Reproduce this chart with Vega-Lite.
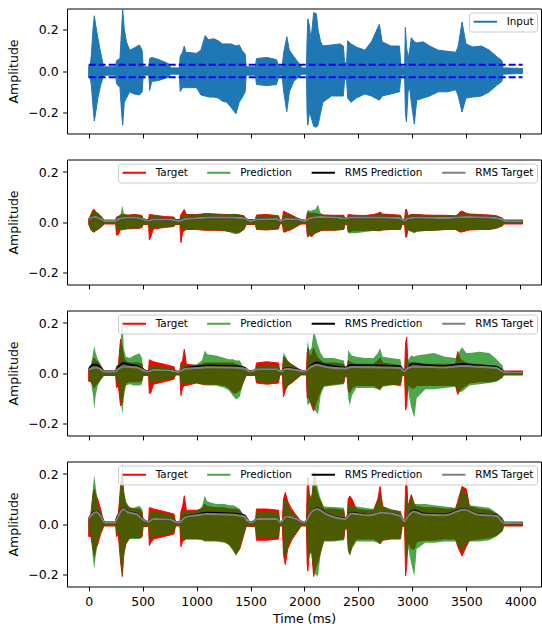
{
"$schema": "https://vega.github.io/schema/vega-lite/v6.json",
"padding": {"left": 7, "top": 7.5, "right": 0, "bottom": 0},
"spacing": 19,
"config": {
 "font": "DejaVu Sans",
 "view": {"stroke": "#000000", "strokeWidth": 1},
 "axis": {"domain": false, "grid": false, "tickSize": 4.4, "tickColor": "#000000", "tickWidth": 1, "labelFontSize": 12.5, "labelColor": "#000000", "labelPadding": 4.4, "titleFontSize": 12.5, "titleFontWeight": "normal", "titleColor": "#000000", "labelFlush": false, "labelOverlap": false},
 "axisY": {"titlePadding": 7},
 "axisX": {"titlePadding": 5},
 "legend": {"orient": "top-right", "offset": 4, "symbolType": "stroke", "symbolSize": 543, "symbolStrokeWidth": 2, "labelFontSize": 10.4, "labelColor": "#000000", "labelOffset": 8.4, "padding": 3.3, "clipHeight": 12, "fillColor": "rgba(255,255,255,0.8)", "strokeColor": "#cccccc", "cornerRadius": 3, "columnPadding": 17.5}
},
"resolve": {"scale": {"x": "independent", "y": "independent", "color": "independent"}, "legend": {"color": "independent"}},
"datasets": {
 "inp": [
  {"t":0,"hi":0.025,"lo":-0.03},{"t":15,"hi":0.03,"lo":-0.035},{"t":25,"hi":0.08,"lo":-0.07},{"t":40,"hi":0.2,"lo":-0.17},{"t":52,"hi":0.265,"lo":-0.24},{"t":65,"hi":0.22,"lo":-0.2},{"t":85,"hi":0.16,"lo":-0.13},{"t":110,"hi":0.09,"lo":-0.07},{"t":130,"hi":0.04,"lo":-0.035},{"t":140,"hi":0.02,"lo":-0.02},{"t":250,"hi":0.02,"lo":-0.02},{"t":258,"hi":0.05,"lo":-0.06},{"t":290,"hi":0.06,"lo":-0.08},{"t":305,"hi":0.2,"lo":-0.2},{"t":315,"hi":0.295,"lo":-0.26},{"t":330,"hi":0.2,"lo":-0.15},{"t":350,"hi":0.14,"lo":-0.13},{"t":380,"hi":0.1,"lo":-0.1},{"t":420,"hi":0.11,"lo":-0.11},{"t":470,"hi":0.125,"lo":-0.115},{"t":495,"hi":0.1,"lo":-0.1},{"t":505,"hi":0.02,"lo":-0.02},{"t":558,"hi":0.02,"lo":-0.02},{"t":565,"hi":0.06,"lo":-0.093},{"t":585,"hi":0.065,"lo":-0.05},{"t":650,"hi":0.055,"lo":-0.045},{"t":740,"hi":0.035,"lo":-0.03},{"t":760,"hi":0.015,"lo":-0.015},{"t":840,"hi":0.015,"lo":-0.015},{"t":848,"hi":0.07,"lo":-0.098},{"t":870,"hi":0.09,"lo":-0.08},{"t":886,"hi":0.12,"lo":-0.08},{"t":900,"hi":0.09,"lo":-0.08},{"t":1000,"hi":0.085,"lo":-0.08},{"t":1040,"hi":0.1,"lo":-0.115},{"t":1080,"hi":0.17,"lo":-0.12},{"t":1110,"hi":0.15,"lo":-0.125},{"t":1160,"hi":0.155,"lo":-0.125},{"t":1200,"hi":0.145,"lo":-0.13},{"t":1240,"hi":0.13,"lo":-0.145},{"t":1280,"hi":0.13,"lo":-0.15},{"t":1320,"hi":0.13,"lo":-0.175},{"t":1365,"hi":0.12,"lo":-0.205},{"t":1395,"hi":0.125,"lo":-0.15},{"t":1420,"hi":0.1,"lo":-0.13},{"t":1450,"hi":0.08,"lo":-0.1},{"t":1460,"hi":0.02,"lo":-0.02},{"t":1545,"hi":0.02,"lo":-0.02},{"t":1555,"hi":0.06,"lo":-0.065},{"t":1650,"hi":0.065,"lo":-0.07},{"t":1740,"hi":0.055,"lo":-0.065},{"t":1765,"hi":0.02,"lo":-0.02},{"t":1793,"hi":0.02,"lo":-0.02},{"t":1805,"hi":0.08,"lo":-0.09},{"t":1836,"hi":0.165,"lo":-0.195},{"t":1860,"hi":0.1,"lo":-0.1},{"t":1900,"hi":0.07,"lo":-0.05},{"t":1965,"hi":0.025,"lo":-0.02},{"t":1975,"hi":0.015,"lo":-0.015},{"t":2018,"hi":0.015,"lo":-0.015},{"t":2024,"hi":0.15,"lo":-0.2},{"t":2031,"hi":0.25,"lo":-0.26},{"t":2045,"hi":0.22,"lo":-0.2},{"t":2060,"hi":0.15,"lo":-0.22},{"t":2085,"hi":0.28,"lo":-0.265},{"t":2110,"hi":0.275,"lo":-0.27},{"t":2125,"hi":0.2,"lo":-0.26},{"t":2150,"hi":0.14,"lo":-0.2},{"t":2170,"hi":0.12,"lo":-0.15},{"t":2250,"hi":0.125,"lo":-0.12},{"t":2330,"hi":0.13,"lo":-0.12},{"t":2360,"hi":0.12,"lo":-0.12},{"t":2372,"hi":0.04,"lo":-0.04},{"t":2390,"hi":0.04,"lo":-0.04},{"t":2400,"hi":0.145,"lo":-0.13},{"t":2432,"hi":0.13,"lo":-0.15},{"t":2480,"hi":0.115,"lo":-0.13},{"t":2560,"hi":0.1,"lo":-0.11},{"t":2620,"hi":0.14,"lo":-0.12},{"t":2694,"hi":0.224,"lo":-0.14},{"t":2720,"hi":0.14,"lo":-0.12},{"t":2800,"hi":0.12,"lo":-0.11},{"t":2880,"hi":0.12,"lo":-0.1},{"t":2895,"hi":0.02,"lo":-0.02},{"t":2928,"hi":0.02,"lo":-0.02},{"t":2935,"hi":0.21,"lo":-0.2},{"t":2945,"hi":0.12,"lo":-0.245},{"t":2960,"hi":0.06,"lo":-0.1},{"t":2975,"hi":0.1,"lo":-0.08},{"t":2990,"hi":0.16,"lo":-0.15},{"t":3018,"hi":0.14,"lo":-0.255},{"t":3040,"hi":0.135,"lo":-0.14},{"t":3100,"hi":0.14,"lo":-0.13},{"t":3160,"hi":0.12,"lo":-0.12},{"t":3240,"hi":0.1,"lo":-0.1},{"t":3320,"hi":0.095,"lo":-0.1},{"t":3404,"hi":0.09,"lo":-0.09},{"t":3425,"hi":0.12,"lo":-0.12},{"t":3460,"hi":0.235,"lo":-0.197},{"t":3497,"hi":0.13,"lo":-0.13},{"t":3560,"hi":0.115,"lo":-0.125},{"t":3640,"hi":0.12,"lo":-0.12},{"t":3713,"hi":0.1,"lo":-0.1},{"t":3780,"hi":0.07,"lo":-0.07},{"t":3830,"hi":0.05,"lo":-0.05},{"t":3840,"hi":0.015,"lo":-0.015},{"t":4021,"hi":0.012,"lo":-0.012}
 ],
 "dash": [{"t":0,"t2":4021,"lvl":0.03},{"t":0,"t2":4021,"lvl":-0.03}],
 "p2": [
  {"t":0,"th":0.01,"tl":-0.01,"ph":0.01,"pl":-0.01},{"t":20,"th":0.03,"tl":-0.03,"ph":0.03,"pl":-0.03},{"t":40,"th":0.048,"tl":-0.04,"ph":0.045,"pl":-0.04},{"t":52,"th":0.05,"tl":-0.04,"ph":0.045,"pl":-0.04},{"t":65,"th":0.04,"tl":-0.035,"ph":0.04,"pl":-0.035},{"t":85,"th":0.035,"tl":-0.03,"ph":0.035,"pl":-0.03},{"t":110,"th":0.025,"tl":-0.022,"ph":0.025,"pl":-0.022},{"t":130,"th":0.015,"tl":-0.015,"ph":0.015,"pl":-0.015},{"t":140,"th":0.008,"tl":-0.008,"ph":0.008,"pl":-0.008},{"t":250,"th":0.008,"tl":-0.008,"ph":0.008,"pl":-0.008},{"t":258,"th":0.02,"tl":-0.053,"ph":0.02,"pl":-0.03},{"t":275,"th":0.022,"tl":-0.05,"ph":0.022,"pl":-0.03},{"t":295,"th":0.028,"tl":-0.03,"ph":0.03,"pl":-0.03},{"t":312,"th":0.03,"tl":-0.03,"ph":0.066,"pl":-0.035},{"t":325,"th":0.03,"tl":-0.03,"ph":0.035,"pl":-0.03},{"t":345,"th":0.028,"tl":-0.028,"ph":0.03,"pl":-0.028},{"t":380,"th":0.028,"tl":-0.027,"ph":0.028,"pl":-0.027},{"t":420,"th":0.03,"tl":-0.026,"ph":0.03,"pl":-0.026},{"t":470,"th":0.028,"tl":-0.025,"ph":0.028,"pl":-0.025},{"t":495,"th":0.025,"tl":-0.022,"ph":0.025,"pl":-0.022},{"t":505,"th":0.01,"tl":-0.01,"ph":0.01,"pl":-0.01},{"t":555,"th":0.01,"tl":-0.01,"ph":0.01,"pl":-0.01},{"t":562,"th":0.03,"tl":-0.072,"ph":0.025,"pl":-0.03},{"t":575,"th":0.03,"tl":-0.06,"ph":0.025,"pl":-0.03},{"t":600,"th":0.028,"tl":-0.028,"ph":0.025,"pl":-0.025},{"t":700,"th":0.022,"tl":-0.022,"ph":0.02,"pl":-0.02},{"t":790,"th":0.02,"tl":-0.018,"ph":0.018,"pl":-0.018},{"t":805,"th":0.01,"tl":-0.01,"ph":0.01,"pl":-0.01},{"t":845,"th":0.01,"tl":-0.01,"ph":0.01,"pl":-0.01},{"t":855,"th":0.03,"tl":-0.082,"ph":0.025,"pl":-0.03},{"t":870,"th":0.04,"tl":-0.04,"ph":0.03,"pl":-0.03},{"t":886,"th":0.05,"tl":-0.035,"ph":0.03,"pl":-0.03},{"t":905,"th":0.03,"tl":-0.03,"ph":0.03,"pl":-0.03},{"t":1000,"th":0.03,"tl":-0.03,"ph":0.03,"pl":-0.03},{"t":1050,"th":0.032,"tl":-0.032,"ph":0.032,"pl":-0.032},{"t":1075,"th":0.034,"tl":-0.033,"ph":0.034,"pl":-0.033},{"t":1100,"th":0.034,"tl":-0.033,"ph":0.033,"pl":-0.033},{"t":1180,"th":0.032,"tl":-0.033,"ph":0.032,"pl":-0.033},{"t":1260,"th":0.03,"tl":-0.035,"ph":0.03,"pl":-0.035},{"t":1300,"th":0.03,"tl":-0.038,"ph":0.031,"pl":-0.04},{"t":1340,"th":0.03,"tl":-0.04,"ph":0.033,"pl":-0.047},{"t":1365,"th":0.03,"tl":-0.043,"ph":0.032,"pl":-0.049},{"t":1400,"th":0.028,"tl":-0.04,"ph":0.03,"pl":-0.045},{"t":1440,"th":0.025,"tl":-0.03,"ph":0.025,"pl":-0.03},{"t":1460,"th":0.01,"tl":-0.01,"ph":0.01,"pl":-0.01},{"t":1545,"th":0.01,"tl":-0.01,"ph":0.01,"pl":-0.01},{"t":1555,"th":0.028,"tl":-0.03,"ph":0.025,"pl":-0.028},{"t":1650,"th":0.03,"tl":-0.032,"ph":0.027,"pl":-0.03},{"t":1760,"th":0.025,"tl":-0.028,"ph":0.023,"pl":-0.025},{"t":1770,"th":0.008,"tl":-0.008,"ph":0.008,"pl":-0.008},{"t":1795,"th":0.008,"tl":-0.008,"ph":0.008,"pl":-0.008},{"t":1805,"th":0.044,"tl":-0.04,"ph":0.035,"pl":-0.035},{"t":1822,"th":0.04,"tl":-0.04,"ph":0.035,"pl":-0.035},{"t":1845,"th":0.035,"tl":-0.035,"ph":0.032,"pl":-0.032},{"t":1880,"th":0.028,"tl":-0.03,"ph":0.025,"pl":-0.028},{"t":1950,"th":0.012,"tl":-0.012,"ph":0.012,"pl":-0.012},{"t":1970,"th":0.008,"tl":-0.008,"ph":0.008,"pl":-0.008},{"t":2018,"th":0.008,"tl":-0.008,"ph":0.008,"pl":-0.008},{"t":2025,"th":0.035,"tl":-0.05,"ph":0.04,"pl":-0.06},{"t":2031,"th":0.04,"tl":-0.06,"ph":0.05,"pl":-0.062},{"t":2045,"th":0.035,"tl":-0.05,"ph":0.045,"pl":-0.055},{"t":2065,"th":0.035,"tl":-0.06,"ph":0.045,"pl":-0.05},{"t":2085,"th":0.035,"tl":-0.05,"ph":0.05,"pl":-0.05},{"t":2100,"th":0.035,"tl":-0.045,"ph":0.05,"pl":-0.045},{"t":2125,"th":0.032,"tl":-0.04,"ph":0.07,"pl":-0.04},{"t":2150,"th":0.03,"tl":-0.035,"ph":0.035,"pl":-0.035},{"t":2180,"th":0.028,"tl":-0.033,"ph":0.028,"pl":-0.033},{"t":2270,"th":0.027,"tl":-0.033,"ph":0.027,"pl":-0.035},{"t":2365,"th":0.027,"tl":-0.03,"ph":0.027,"pl":-0.03},{"t":2375,"th":0.01,"tl":-0.01,"ph":0.01,"pl":-0.01},{"t":2395,"th":0.01,"tl":-0.01,"ph":0.01,"pl":-0.01},{"t":2405,"th":0.03,"tl":-0.04,"ph":0.028,"pl":-0.045},{"t":2420,"th":0.03,"tl":-0.04,"ph":0.028,"pl":-0.045},{"t":2440,"th":0.028,"tl":-0.035,"ph":0.027,"pl":-0.045},{"t":2480,"th":0.027,"tl":-0.035,"ph":0.026,"pl":-0.045},{"t":2560,"th":0.026,"tl":-0.033,"ph":0.026,"pl":-0.04},{"t":2640,"th":0.03,"tl":-0.033,"ph":0.028,"pl":-0.036},{"t":2680,"th":0.035,"tl":-0.035,"ph":0.03,"pl":-0.035},{"t":2700,"th":0.04,"tl":-0.035,"ph":0.035,"pl":-0.035},{"t":2725,"th":0.032,"tl":-0.032,"ph":0.03,"pl":-0.032},{"t":2800,"th":0.03,"tl":-0.03,"ph":0.028,"pl":-0.03},{"t":2890,"th":0.027,"tl":-0.03,"ph":0.026,"pl":-0.03},{"t":2905,"th":0.01,"tl":-0.01,"ph":0.01,"pl":-0.01},{"t":2928,"th":0.01,"tl":-0.01,"ph":0.01,"pl":-0.01},{"t":2937,"th":0.05,"tl":-0.06,"ph":0.04,"pl":-0.045},{"t":2947,"th":0.05,"tl":-0.06,"ph":0.035,"pl":-0.045},{"t":2958,"th":0.025,"tl":-0.03,"ph":0.025,"pl":-0.03},{"t":2972,"th":0.028,"tl":-0.035,"ph":0.028,"pl":-0.035},{"t":2990,"th":0.03,"tl":-0.035,"ph":0.03,"pl":-0.04},{"t":3018,"th":0.03,"tl":-0.04,"ph":0.03,"pl":-0.045},{"t":3040,"th":0.03,"tl":-0.035,"ph":0.03,"pl":-0.04},{"t":3120,"th":0.028,"tl":-0.034,"ph":0.028,"pl":-0.036},{"t":3200,"th":0.027,"tl":-0.033,"ph":0.027,"pl":-0.035},{"t":3300,"th":0.027,"tl":-0.03,"ph":0.027,"pl":-0.032},{"t":3400,"th":0.025,"tl":-0.03,"ph":0.025,"pl":-0.03},{"t":3420,"th":0.03,"tl":-0.035,"ph":0.028,"pl":-0.033},{"t":3440,"th":0.04,"tl":-0.04,"ph":0.035,"pl":-0.035},{"t":3460,"th":0.044,"tl":-0.04,"ph":0.036,"pl":-0.036},{"t":3500,"th":0.035,"tl":-0.035,"ph":0.033,"pl":-0.033},{"t":3530,"th":0.032,"tl":-0.032,"ph":0.03,"pl":-0.032},{"t":3620,"th":0.03,"tl":-0.03,"ph":0.03,"pl":-0.03},{"t":3713,"th":0.028,"tl":-0.03,"ph":0.028,"pl":-0.03},{"t":3780,"th":0.025,"tl":-0.025,"ph":0.025,"pl":-0.025},{"t":3836,"th":0.015,"tl":-0.015,"ph":0.015,"pl":-0.015},{"t":3845,"th":0.008,"tl":-0.008,"ph":0.008,"pl":-0.008},{"t":4021,"th":0.008,"tl":-0.008,"ph":0.008,"pl":-0.008}
 ],
 "p3": [
  {"t":0,"th":0.015,"tl":-0.033,"ph":0.015,"pl":-0.03},{"t":20,"th":0.025,"tl":-0.035,"ph":0.03,"pl":-0.035},{"t":40,"th":0.05,"tl":-0.05,"ph":0.08,"pl":-0.09},{"t":52,"th":0.06,"tl":-0.06,"ph":0.109,"pl":-0.146},{"t":65,"th":0.05,"tl":-0.05,"ph":0.08,"pl":-0.09},{"t":85,"th":0.045,"tl":-0.04,"ph":0.055,"pl":-0.05},{"t":110,"th":0.03,"tl":-0.025,"ph":0.035,"pl":-0.03},{"t":130,"th":0.015,"tl":-0.015,"ph":0.018,"pl":-0.018},{"t":140,"th":0.007,"tl":-0.01,"ph":0.007,"pl":-0.01},{"t":250,"th":0.007,"tl":-0.01,"ph":0.007,"pl":-0.01},{"t":258,"th":0.025,"tl":-0.06,"ph":0.03,"pl":-0.035},{"t":275,"th":0.03,"tl":-0.05,"ph":0.035,"pl":-0.04},{"t":295,"th":0.135,"tl":-0.132,"ph":0.12,"pl":-0.1},{"t":312,"th":0.1,"tl":-0.12,"ph":0.223,"pl":-0.166},{"t":325,"th":0.06,"tl":-0.07,"ph":0.1,"pl":-0.1},{"t":345,"th":0.045,"tl":-0.04,"ph":0.065,"pl":-0.05},{"t":380,"th":0.04,"tl":-0.035,"ph":0.06,"pl":-0.045},{"t":420,"th":0.04,"tl":-0.035,"ph":0.07,"pl":-0.05},{"t":470,"th":0.04,"tl":-0.035,"ph":0.079,"pl":-0.05},{"t":495,"th":0.035,"tl":-0.03,"ph":0.06,"pl":-0.045},{"t":505,"th":0.01,"tl":-0.01,"ph":0.01,"pl":-0.01},{"t":555,"th":0.01,"tl":-0.01,"ph":0.01,"pl":-0.01},{"t":562,"th":0.053,"tl":-0.082,"ph":0.03,"pl":-0.04},{"t":575,"th":0.05,"tl":-0.08,"ph":0.03,"pl":-0.04},{"t":600,"th":0.045,"tl":-0.045,"ph":0.03,"pl":-0.035},{"t":700,"th":0.035,"tl":-0.035,"ph":0.025,"pl":-0.03},{"t":790,"th":0.025,"tl":-0.025,"ph":0.02,"pl":-0.02},{"t":805,"th":0.008,"tl":-0.008,"ph":0.008,"pl":-0.008},{"t":845,"th":0.008,"tl":-0.008,"ph":0.008,"pl":-0.008},{"t":855,"th":0.04,"tl":-0.09,"ph":0.035,"pl":-0.05},{"t":870,"th":0.05,"tl":-0.06,"ph":0.035,"pl":-0.045},{"t":886,"th":0.095,"tl":-0.05,"ph":0.04,"pl":-0.045},{"t":905,"th":0.035,"tl":-0.05,"ph":0.03,"pl":-0.04},{"t":1000,"th":0.03,"tl":-0.04,"ph":0.035,"pl":-0.04},{"t":1050,"th":0.035,"tl":-0.045,"ph":0.05,"pl":-0.045},{"t":1075,"th":0.04,"tl":-0.045,"ph":0.09,"pl":-0.05},{"t":1100,"th":0.04,"tl":-0.045,"ph":0.075,"pl":-0.05},{"t":1180,"th":0.04,"tl":-0.045,"ph":0.07,"pl":-0.05},{"t":1260,"th":0.04,"tl":-0.05,"ph":0.06,"pl":-0.06},{"t":1300,"th":0.04,"tl":-0.06,"ph":0.055,"pl":-0.07},{"t":1340,"th":0.04,"tl":-0.08,"ph":0.055,"pl":-0.093},{"t":1365,"th":0.035,"tl":-0.08,"ph":0.05,"pl":-0.106},{"t":1400,"th":0.03,"tl":-0.07,"ph":0.05,"pl":-0.095},{"t":1440,"th":0.02,"tl":-0.03,"ph":0.02,"pl":-0.03},{"t":1460,"th":0.01,"tl":-0.01,"ph":0.01,"pl":-0.01},{"t":1545,"th":0.01,"tl":-0.01,"ph":0.01,"pl":-0.01},{"t":1555,"th":0.04,"tl":-0.04,"ph":0.03,"pl":-0.035},{"t":1650,"th":0.045,"tl":-0.045,"ph":0.035,"pl":-0.04},{"t":1760,"th":0.04,"tl":-0.04,"ph":0.03,"pl":-0.035},{"t":1770,"th":0.008,"tl":-0.008,"ph":0.008,"pl":-0.008},{"t":1795,"th":0.008,"tl":-0.008,"ph":0.008,"pl":-0.008},{"t":1805,"th":0.065,"tl":-0.095,"ph":0.082,"pl":-0.07},{"t":1822,"th":0.06,"tl":-0.07,"ph":0.07,"pl":-0.06},{"t":1845,"th":0.045,"tl":-0.05,"ph":0.05,"pl":-0.05},{"t":1880,"th":0.035,"tl":-0.04,"ph":0.035,"pl":-0.04},{"t":1950,"th":0.015,"tl":-0.015,"ph":0.015,"pl":-0.015},{"t":1970,"th":0.008,"tl":-0.008,"ph":0.008,"pl":-0.008},{"t":2018,"th":0.008,"tl":-0.008,"ph":0.008,"pl":-0.008},{"t":2025,"th":0.08,"tl":-0.1,"ph":0.1,"pl":-0.12},{"t":2031,"th":0.1,"tl":-0.1,"ph":0.13,"pl":-0.13},{"t":2045,"th":0.07,"tl":-0.1,"ph":0.09,"pl":-0.12},{"t":2065,"th":0.07,"tl":-0.13,"ph":0.1,"pl":-0.12},{"t":2085,"th":0.1,"tl":-0.152,"ph":0.17,"pl":-0.14},{"t":2100,"th":0.08,"tl":-0.13,"ph":0.15,"pl":-0.15},{"t":2125,"th":0.06,"tl":-0.1,"ph":0.11,"pl":-0.165},{"t":2150,"th":0.05,"tl":-0.07,"ph":0.08,"pl":-0.09},{"t":2180,"th":0.04,"tl":-0.05,"ph":0.06,"pl":-0.055},{"t":2270,"th":0.04,"tl":-0.045,"ph":0.06,"pl":-0.05},{"t":2365,"th":0.035,"tl":-0.04,"ph":0.05,"pl":-0.045},{"t":2375,"th":0.015,"tl":-0.015,"ph":0.015,"pl":-0.015},{"t":2395,"th":0.015,"tl":-0.015,"ph":0.015,"pl":-0.015},{"t":2405,"th":0.05,"tl":-0.07,"ph":0.093,"pl":-0.1},{"t":2420,"th":0.045,"tl":-0.08,"ph":0.08,"pl":-0.13},{"t":2440,"th":0.04,"tl":-0.06,"ph":0.07,"pl":-0.09},{"t":2480,"th":0.035,"tl":-0.05,"ph":0.065,"pl":-0.06},{"t":2560,"th":0.035,"tl":-0.05,"ph":0.06,"pl":-0.06},{"t":2640,"th":0.035,"tl":-0.05,"ph":0.06,"pl":-0.06},{"t":2680,"th":0.05,"tl":-0.06,"ph":0.08,"pl":-0.065},{"t":2700,"th":0.06,"tl":-0.065,"ph":0.1,"pl":-0.07},{"t":2725,"th":0.04,"tl":-0.05,"ph":0.065,"pl":-0.055},{"t":2800,"th":0.035,"tl":-0.045,"ph":0.06,"pl":-0.05},{"t":2890,"th":0.03,"tl":-0.05,"ph":0.055,"pl":-0.045},{"t":2905,"th":0.01,"tl":-0.01,"ph":0.01,"pl":-0.01},{"t":2928,"th":0.01,"tl":-0.01,"ph":0.01,"pl":-0.01},{"t":2937,"th":0.12,"tl":-0.148,"ph":0.06,"pl":-0.08},{"t":2947,"th":0.143,"tl":-0.13,"ph":0.06,"pl":-0.07},{"t":2958,"th":0.04,"tl":-0.05,"ph":0.05,"pl":-0.06},{"t":2972,"th":0.04,"tl":-0.05,"ph":0.06,"pl":-0.1},{"t":2990,"th":0.04,"tl":-0.06,"ph":0.07,"pl":-0.14},{"t":3018,"th":0.04,"tl":-0.06,"ph":0.065,"pl":-0.179},{"t":3040,"th":0.04,"tl":-0.05,"ph":0.07,"pl":-0.1},{"t":3120,"th":0.035,"tl":-0.05,"ph":0.075,"pl":-0.065},{"t":3200,"th":0.035,"tl":-0.05,"ph":0.08,"pl":-0.065},{"t":3300,"th":0.035,"tl":-0.05,"ph":0.065,"pl":-0.06},{"t":3400,"th":0.035,"tl":-0.05,"ph":0.06,"pl":-0.055},{"t":3420,"th":0.086,"tl":-0.086,"ph":0.07,"pl":-0.07},{"t":3440,"th":0.06,"tl":-0.07,"ph":0.09,"pl":-0.075},{"t":3460,"th":0.05,"tl":-0.06,"ph":0.103,"pl":-0.075},{"t":3500,"th":0.04,"tl":-0.05,"ph":0.08,"pl":-0.06},{"t":3530,"th":0.035,"tl":-0.04,"ph":0.08,"pl":-0.05},{"t":3620,"th":0.035,"tl":-0.035,"ph":0.085,"pl":-0.045},{"t":3713,"th":0.03,"tl":-0.035,"ph":0.08,"pl":-0.04},{"t":3780,"th":0.025,"tl":-0.03,"ph":0.055,"pl":-0.035},{"t":3836,"th":0.015,"tl":-0.015,"ph":0.03,"pl":-0.02},{"t":3845,"th":0.008,"tl":-0.008,"ph":0.008,"pl":-0.008},{"t":4021,"th":0.008,"tl":-0.008,"ph":0.008,"pl":-0.008}
 ],
 "p4": [
  {"t":0,"th":0.02,"tl":-0.05,"ph":0.02,"pl":-0.04},{"t":20,"th":0.04,"tl":-0.05,"ph":0.04,"pl":-0.045},{"t":40,"th":0.12,"tl":-0.1,"ph":0.15,"pl":-0.14},{"t":52,"th":0.14,"tl":-0.13,"ph":0.196,"pl":-0.18},{"t":65,"th":0.12,"tl":-0.1,"ph":0.15,"pl":-0.13},{"t":85,"th":0.097,"tl":-0.08,"ph":0.08,"pl":-0.07},{"t":110,"th":0.06,"tl":-0.04,"ph":0.05,"pl":-0.035},{"t":130,"th":0.025,"tl":-0.02,"ph":0.025,"pl":-0.02},{"t":140,"th":0.008,"tl":-0.008,"ph":0.008,"pl":-0.008},{"t":250,"th":0.008,"tl":-0.008,"ph":0.008,"pl":-0.008},{"t":258,"th":0.03,"tl":-0.05,"ph":0.03,"pl":-0.04},{"t":275,"th":0.04,"tl":-0.045,"ph":0.04,"pl":-0.04},{"t":295,"th":0.15,"tl":-0.15,"ph":0.15,"pl":-0.15},{"t":312,"th":0.2,"tl":-0.21,"ph":0.25,"pl":-0.215},{"t":325,"th":0.12,"tl":-0.12,"ph":0.14,"pl":-0.14},{"t":345,"th":0.08,"tl":-0.08,"ph":0.09,"pl":-0.08},{"t":380,"th":0.065,"tl":-0.055,"ph":0.065,"pl":-0.06},{"t":420,"th":0.06,"tl":-0.055,"ph":0.065,"pl":-0.06},{"t":470,"th":0.06,"tl":-0.055,"ph":0.073,"pl":-0.06},{"t":495,"th":0.05,"tl":-0.05,"ph":0.06,"pl":-0.055},{"t":505,"th":0.01,"tl":-0.01,"ph":0.01,"pl":-0.01},{"t":555,"th":0.01,"tl":-0.01,"ph":0.01,"pl":-0.01},{"t":562,"th":0.065,"tl":-0.086,"ph":0.05,"pl":-0.06},{"t":575,"th":0.065,"tl":-0.075,"ph":0.05,"pl":-0.06},{"t":600,"th":0.06,"tl":-0.06,"ph":0.05,"pl":-0.05},{"t":700,"th":0.05,"tl":-0.05,"ph":0.045,"pl":-0.045},{"t":790,"th":0.04,"tl":-0.04,"ph":0.035,"pl":-0.035},{"t":805,"th":0.008,"tl":-0.008,"ph":0.008,"pl":-0.008},{"t":845,"th":0.008,"tl":-0.008,"ph":0.008,"pl":-0.008},{"t":855,"th":0.05,"tl":-0.091,"ph":0.045,"pl":-0.06},{"t":870,"th":0.07,"tl":-0.07,"ph":0.05,"pl":-0.06},{"t":886,"th":0.113,"tl":-0.065,"ph":0.06,"pl":-0.06},{"t":905,"th":0.055,"tl":-0.06,"ph":0.05,"pl":-0.06},{"t":1000,"th":0.055,"tl":-0.06,"ph":0.05,"pl":-0.06},{"t":1050,"th":0.06,"tl":-0.06,"ph":0.07,"pl":-0.065},{"t":1075,"th":0.08,"tl":-0.065,"ph":0.113,"pl":-0.07},{"t":1100,"th":0.07,"tl":-0.065,"ph":0.09,"pl":-0.07},{"t":1180,"th":0.065,"tl":-0.065,"ph":0.08,"pl":-0.07},{"t":1260,"th":0.065,"tl":-0.07,"ph":0.08,"pl":-0.075},{"t":1300,"th":0.06,"tl":-0.08,"ph":0.075,"pl":-0.085},{"t":1340,"th":0.06,"tl":-0.1,"ph":0.075,"pl":-0.11},{"t":1365,"th":0.06,"tl":-0.12,"ph":0.07,"pl":-0.128},{"t":1400,"th":0.055,"tl":-0.1,"ph":0.06,"pl":-0.1},{"t":1440,"th":0.03,"tl":-0.04,"ph":0.03,"pl":-0.04},{"t":1460,"th":0.01,"tl":-0.01,"ph":0.01,"pl":-0.01},{"t":1545,"th":0.01,"tl":-0.01,"ph":0.01,"pl":-0.01},{"t":1555,"th":0.06,"tl":-0.065,"ph":0.05,"pl":-0.055},{"t":1650,"th":0.06,"tl":-0.065,"ph":0.05,"pl":-0.055},{"t":1760,"th":0.055,"tl":-0.06,"ph":0.045,"pl":-0.05},{"t":1770,"th":0.008,"tl":-0.008,"ph":0.008,"pl":-0.008},{"t":1795,"th":0.008,"tl":-0.008,"ph":0.008,"pl":-0.008},{"t":1805,"th":0.1,"tl":-0.12,"ph":0.09,"pl":-0.11},{"t":1822,"th":0.126,"tl":-0.162,"ph":0.11,"pl":-0.14},{"t":1845,"th":0.09,"tl":-0.1,"ph":0.08,"pl":-0.09},{"t":1880,"th":0.06,"tl":-0.065,"ph":0.05,"pl":-0.06},{"t":1950,"th":0.02,"tl":-0.02,"ph":0.02,"pl":-0.02},{"t":1970,"th":0.008,"tl":-0.008,"ph":0.008,"pl":-0.008},{"t":2018,"th":0.008,"tl":-0.008,"ph":0.008,"pl":-0.008},{"t":2025,"th":0.15,"tl":-0.16,"ph":0.13,"pl":-0.14},{"t":2031,"th":0.187,"tl":-0.188,"ph":0.15,"pl":-0.16},{"t":2045,"th":0.12,"tl":-0.12,"ph":0.11,"pl":-0.12},{"t":2065,"th":0.1,"tl":-0.1,"ph":0.1,"pl":-0.12},{"t":2085,"th":0.17,"tl":-0.21,"ph":0.21,"pl":-0.19},{"t":2100,"th":0.15,"tl":-0.18,"ph":0.21,"pl":-0.2},{"t":2125,"th":0.11,"tl":-0.15,"ph":0.14,"pl":-0.21},{"t":2150,"th":0.09,"tl":-0.11,"ph":0.1,"pl":-0.12},{"t":2180,"th":0.06,"tl":-0.065,"ph":0.07,"pl":-0.07},{"t":2270,"th":0.06,"tl":-0.065,"ph":0.068,"pl":-0.07},{"t":2365,"th":0.055,"tl":-0.06,"ph":0.065,"pl":-0.065},{"t":2375,"th":0.02,"tl":-0.02,"ph":0.02,"pl":-0.02},{"t":2395,"th":0.02,"tl":-0.02,"ph":0.02,"pl":-0.02},{"t":2405,"th":0.1,"tl":-0.1,"ph":0.08,"pl":-0.11},{"t":2420,"th":0.112,"tl":-0.12,"ph":0.08,"pl":-0.128},{"t":2440,"th":0.1,"tl":-0.09,"ph":0.075,"pl":-0.1},{"t":2480,"th":0.06,"tl":-0.06,"ph":0.07,"pl":-0.07},{"t":2560,"th":0.055,"tl":-0.06,"ph":0.065,"pl":-0.07},{"t":2640,"th":0.055,"tl":-0.06,"ph":0.06,"pl":-0.07},{"t":2680,"th":0.1,"tl":-0.07,"ph":0.09,"pl":-0.075},{"t":2700,"th":0.15,"tl":-0.08,"ph":0.13,"pl":-0.08},{"t":2725,"th":0.07,"tl":-0.065,"ph":0.07,"pl":-0.065},{"t":2800,"th":0.055,"tl":-0.06,"ph":0.06,"pl":-0.06},{"t":2890,"th":0.05,"tl":-0.06,"ph":0.05,"pl":-0.06},{"t":2905,"th":0.01,"tl":-0.01,"ph":0.01,"pl":-0.01},{"t":2928,"th":0.01,"tl":-0.01,"ph":0.01,"pl":-0.01},{"t":2937,"th":0.15,"tl":-0.208,"ph":0.1,"pl":-0.15},{"t":2947,"th":0.19,"tl":-0.17,"ph":0.11,"pl":-0.13},{"t":2958,"th":0.07,"tl":-0.08,"ph":0.07,"pl":-0.09},{"t":2972,"th":0.09,"tl":-0.08,"ph":0.09,"pl":-0.12},{"t":2990,"th":0.117,"tl":-0.1,"ph":0.117,"pl":-0.16},{"t":3018,"th":0.08,"tl":-0.1,"ph":0.08,"pl":-0.208},{"t":3040,"th":0.07,"tl":-0.07,"ph":0.08,"pl":-0.1},{"t":3120,"th":0.065,"tl":-0.065,"ph":0.08,"pl":-0.075},{"t":3200,"th":0.065,"tl":-0.065,"ph":0.075,"pl":-0.075},{"t":3300,"th":0.06,"tl":-0.06,"ph":0.07,"pl":-0.07},{"t":3400,"th":0.06,"tl":-0.06,"ph":0.065,"pl":-0.07},{"t":3420,"th":0.09,"tl":-0.09,"ph":0.08,"pl":-0.08},{"t":3440,"th":0.12,"tl":-0.11,"ph":0.12,"pl":-0.1},{"t":3460,"th":0.15,"tl":-0.128,"ph":0.147,"pl":-0.11},{"t":3500,"th":0.14,"tl":-0.09,"ph":0.12,"pl":-0.08},{"t":3530,"th":0.07,"tl":-0.065,"ph":0.075,"pl":-0.07},{"t":3620,"th":0.06,"tl":-0.06,"ph":0.07,"pl":-0.07},{"t":3713,"th":0.055,"tl":-0.055,"ph":0.065,"pl":-0.065},{"t":3780,"th":0.04,"tl":-0.045,"ph":0.045,"pl":-0.05},{"t":3836,"th":0.02,"tl":-0.025,"ph":0.025,"pl":-0.03},{"t":3845,"th":0.008,"tl":-0.008,"ph":0.008,"pl":-0.008},{"t":4021,"th":0.008,"tl":-0.008,"ph":0.008,"pl":-0.008}
 ],
 "r2": [
  {"t":0,"rp":0.01,"rt":0.01},{"t":30,"rp":0.018,"rt":0.018},{"t":60,"rp":0.02,"rt":0.02},{"t":110,"rp":0.012,"rt":0.012},{"t":150,"rp":0.004,"rt":0.004},{"t":240,"rp":0.004,"rt":0.004},{"t":280,"rp":0.012,"rt":0.012},{"t":330,"rp":0.017,"rt":0.017},{"t":420,"rp":0.018,"rt":0.018},{"t":500,"rp":0.012,"rt":0.012},{"t":550,"rp":0.005,"rt":0.005},{"t":600,"rp":0.01,"rt":0.01},{"t":750,"rp":0.01,"rt":0.01},{"t":830,"rp":0.004,"rt":0.004},{"t":900,"rp":0.012,"rt":0.012},{"t":1000,"rp":0.015,"rt":0.015},{"t":1100,"rp":0.018,"rt":0.018},{"t":1300,"rp":0.018,"rt":0.018},{"t":1440,"rp":0.015,"rt":0.015},{"t":1500,"rp":0.004,"rt":0.004},{"t":1560,"rp":0.01,"rt":0.01},{"t":1740,"rp":0.012,"rt":0.012},{"t":1780,"rp":0.004,"rt":0.004},{"t":1830,"rp":0.012,"rt":0.012},{"t":1950,"rp":0.01,"rt":0.01},{"t":2000,"rp":0.004,"rt":0.004},{"t":2050,"rp":0.015,"rt":0.015},{"t":2150,"rp":0.02,"rt":0.02},{"t":2300,"rp":0.018,"rt":0.018},{"t":2380,"rp":0.014,"rt":0.014},{"t":2420,"rp":0.018,"rt":0.018},{"t":2700,"rp":0.018,"rt":0.018},{"t":2880,"rp":0.016,"rt":0.016},{"t":2920,"rp":0.006,"rt":0.006},{"t":2960,"rp":0.014,"rt":0.014},{"t":3050,"rp":0.018,"rt":0.018},{"t":3300,"rp":0.016,"rt":0.016},{"t":3500,"rp":0.02,"rt":0.02},{"t":3700,"rp":0.018,"rt":0.018},{"t":3820,"rp":0.012,"rt":0.012},{"t":3870,"rp":0.003,"rt":0.003},{"t":4021,"rp":0.003,"rt":0.003}
 ],
 "r3": [
  {"t":0,"rp":0.015,"rt":0.015},{"t":40,"rp":0.033,"rt":0.02},{"t":70,"rp":0.033,"rt":0.022},{"t":110,"rp":0.02,"rt":0.015},{"t":150,"rp":0.006,"rt":0.005},{"t":240,"rp":0.006,"rt":0.005},{"t":270,"rp":0.02,"rt":0.015},{"t":320,"rp":0.04,"rt":0.026},{"t":360,"rp":0.035,"rt":0.025},{"t":450,"rp":0.028,"rt":0.022},{"t":500,"rp":0.015,"rt":0.012},{"t":550,"rp":0.005,"rt":0.005},{"t":600,"rp":0.012,"rt":0.012},{"t":750,"rp":0.01,"rt":0.01},{"t":830,"rp":0.004,"rt":0.004},{"t":900,"rp":0.02,"rt":0.018},{"t":1000,"rp":0.025,"rt":0.02},{"t":1100,"rp":0.03,"rt":0.023},{"t":1300,"rp":0.028,"rt":0.022},{"t":1440,"rp":0.022,"rt":0.018},{"t":1500,"rp":0.005,"rt":0.005},{"t":1570,"rp":0.015,"rt":0.015},{"t":1740,"rp":0.015,"rt":0.015},{"t":1780,"rp":0.006,"rt":0.006},{"t":1830,"rp":0.02,"rt":0.017},{"t":1950,"rp":0.012,"rt":0.01},{"t":2000,"rp":0.005,"rt":0.005},{"t":2060,"rp":0.03,"rt":0.025},{"t":2110,"rp":0.042,"rt":0.032},{"t":2200,"rp":0.032,"rt":0.024},{"t":2380,"rp":0.022,"rt":0.018},{"t":2430,"rp":0.032,"rt":0.024},{"t":2700,"rp":0.03,"rt":0.022},{"t":2890,"rp":0.025,"rt":0.02},{"t":2920,"rp":0.01,"rt":0.008},{"t":2960,"rp":0.02,"rt":0.02},{"t":3000,"rp":0.038,"rt":0.025},{"t":3100,"rp":0.032,"rt":0.025},{"t":3300,"rp":0.028,"rt":0.022},{"t":3460,"rp":0.036,"rt":0.028},{"t":3600,"rp":0.03,"rt":0.025},{"t":3780,"rp":0.025,"rt":0.02},{"t":3850,"rp":0.005,"rt":0.004},{"t":4021,"rp":0.002,"rt":0.002}
 ],
 "r4": [
  {"t":0,"rp":0.02,"rt":0.02},{"t":40,"rp":0.045,"rt":0.042},{"t":70,"rp":0.05,"rt":0.048},{"t":110,"rp":0.035,"rt":0.033},{"t":150,"rp":0.005,"rt":0.005},{"t":240,"rp":0.005,"rt":0.005},{"t":270,"rp":0.03,"rt":0.028},{"t":320,"rp":0.062,"rt":0.06},{"t":360,"rp":0.05,"rt":0.048},{"t":450,"rp":0.04,"rt":0.038},{"t":500,"rp":0.02,"rt":0.018},{"t":550,"rp":0.008,"rt":0.008},{"t":600,"rp":0.02,"rt":0.02},{"t":750,"rp":0.018,"rt":0.018},{"t":830,"rp":0.005,"rt":0.005},{"t":900,"rp":0.03,"rt":0.028},{"t":1000,"rp":0.038,"rt":0.035},{"t":1100,"rp":0.045,"rt":0.04},{"t":1300,"rp":0.042,"rt":0.038},{"t":1440,"rp":0.035,"rt":0.03},{"t":1500,"rp":0.005,"rt":0.005},{"t":1570,"rp":0.02,"rt":0.02},{"t":1740,"rp":0.02,"rt":0.02},{"t":1780,"rp":0.006,"rt":0.006},{"t":1830,"rp":0.03,"rt":0.03},{"t":1950,"rp":0.015,"rt":0.015},{"t":2000,"rp":0.005,"rt":0.005},{"t":2060,"rp":0.045,"rt":0.045},{"t":2120,"rp":0.063,"rt":0.06},{"t":2200,"rp":0.042,"rt":0.04},{"t":2380,"rp":0.022,"rt":0.02},{"t":2430,"rp":0.045,"rt":0.042},{"t":2600,"rp":0.036,"rt":0.035},{"t":2720,"rp":0.045,"rt":0.045},{"t":2890,"rp":0.035,"rt":0.033},{"t":2920,"rp":0.01,"rt":0.01},{"t":2960,"rp":0.03,"rt":0.03},{"t":3010,"rp":0.055,"rt":0.05},{"t":3100,"rp":0.042,"rt":0.038},{"t":3300,"rp":0.038,"rt":0.035},{"t":3480,"rp":0.06,"rt":0.058},{"t":3600,"rp":0.04,"rt":0.038},{"t":3780,"rp":0.035,"rt":0.032},{"t":3850,"rp":0.005,"rt":0.004},{"t":4021,"rp":0.003,"rt":0.003}
 ]
},
"vconcat": [
 {
  "width": 474, "height": 125,
  "encoding": {"x": {"field": "t", "type": "quantitative", "scale": {"domain": [-201, 4192], "nice": false, "zero": false}, "axis": {"labels": false, "title": null, "values": [0,500,1000,1500,2000,2500,3000,3500,4000]}}},
  "layer": [
   {"data": {"name": "inp"}, "mark": {"type": "area", "clip": true, "stroke": "#1f77b4", "strokeWidth": 1},
    "encoding": {"y": {"field": "hi", "type": "quantitative", "scale": {"domain": [-0.3, 0.3], "nice": false, "zero": false}, "axis": {"title": "Amplitude", "values": [-0.2, 0, 0.2], "format": ".1f"}}, "y2": {"field": "lo"},
     "color": {"datum": "Input", "type": "nominal", "scale": {"domain": ["Input"], "range": ["#1f77b4"]}, "legend": {"title": null, "encode": {"symbols": {"update": {"stroke": {"value": "#1f77b4"}, "strokeWidth": {"value": 2}, "fill": {"value": "transparent"}, "opacity": {"value": 1}}}}}}}},
   {"data": {"name": "dash"}, "mark": {"type": "rule", "color": "#0000ff", "strokeDash": [7, 3], "strokeWidth": 1.8, "clip": true},
    "encoding": {"x2": {"field": "t2"}, "y": {"field": "lvl", "type": "quantitative", "scale": {"domain": [-0.3, 0.3], "nice": false, "zero": false}, "axis": {"title": "Amplitude", "values": [-0.2, 0, 0.2], "format": ".1f"}}}}
  ]
 },
 {
  "width": 474, "height": 125,
  "encoding": {"x": {"field": "t", "type": "quantitative", "scale": {"domain": [-201, 4192], "nice": false, "zero": false}, "axis": {"labels": false, "title": null, "values": [0,500,1000,1500,2000,2500,3000,3500,4000]}}},
  "layer": [
   {"data": {"name": "p2"}, "mark": {"type": "area", "clip": true, "stroke": "#ff0000", "strokeWidth": 1},
    "encoding": {"y": {"field": "th", "type": "quantitative", "scale": {"domain": [-0.25, 0.25], "nice": false, "zero": false}, "axis": {"title": "Amplitude", "values": [-0.2, 0, 0.2], "format": ".1f"}}, "y2": {"field": "tl"},
     "color": {"datum": "Target", "type": "nominal", "scale": {"domain": ["Target", "Prediction", "RMS Prediction", "RMS Target"], "range": ["#ff0000", "#4ca64c", "#000000", "#808080"]},
      "legend": {"title": null, "direction": "horizontal", "columns": 4, "encode": {"symbols": {"update": {"strokeWidth": {"value": 2}, "fill": {"value": "transparent"}, "opacity": {"value": 1}}}}}}}},
   {"data": {"name": "p2"}, "mark": {"type": "area", "clip": true, "opacity": 0.7},
    "encoding": {"y": {"field": "ph", "type": "quantitative", "scale": {"domain": [-0.25, 0.25], "nice": false, "zero": false}, "axis": {"title": "Amplitude", "values": [-0.2, 0, 0.2], "format": ".1f"}}, "y2": {"field": "pl"},
     "color": {"datum": "Prediction", "type": "nominal"}, "fill": {"value": "#008000"}}},
   {"data": {"name": "r2"}, "mark": {"type": "line", "clip": true, "strokeWidth": 2, "interpolate": "monotone"},
    "encoding": {"y": {"field": "rp", "type": "quantitative", "scale": {"domain": [-0.25, 0.25], "nice": false, "zero": false}, "axis": {"title": "Amplitude", "values": [-0.2, 0, 0.2], "format": ".1f"}},
     "color": {"datum": "RMS Prediction", "type": "nominal"}}},
   {"data": {"name": "r2"}, "mark": {"type": "line", "clip": true, "strokeWidth": 2, "interpolate": "monotone"},
    "encoding": {"y": {"field": "rt", "type": "quantitative", "scale": {"domain": [-0.25, 0.25], "nice": false, "zero": false}, "axis": {"title": "Amplitude", "values": [-0.2, 0, 0.2], "format": ".1f"}},
     "color": {"datum": "RMS Target", "type": "nominal"}}}
  ]
 },
 {
  "width": 474, "height": 125,
  "encoding": {"x": {"field": "t", "type": "quantitative", "scale": {"domain": [-201, 4192], "nice": false, "zero": false}, "axis": {"labels": false, "title": null, "values": [0,500,1000,1500,2000,2500,3000,3500,4000]}}},
  "layer": [
   {"data": {"name": "p3"}, "mark": {"type": "area", "clip": true, "stroke": "#ff0000", "strokeWidth": 1},
    "encoding": {"y": {"field": "th", "type": "quantitative", "scale": {"domain": [-0.25, 0.25], "nice": false, "zero": false}, "axis": {"title": "Amplitude", "values": [-0.2, 0, 0.2], "format": ".1f"}}, "y2": {"field": "tl"},
     "color": {"datum": "Target", "type": "nominal", "scale": {"domain": ["Target", "Prediction", "RMS Prediction", "RMS Target"], "range": ["#ff0000", "#4ca64c", "#000000", "#808080"]},
      "legend": {"title": null, "direction": "horizontal", "columns": 4, "encode": {"symbols": {"update": {"strokeWidth": {"value": 2}, "fill": {"value": "transparent"}, "opacity": {"value": 1}}}}}}}},
   {"data": {"name": "p3"}, "mark": {"type": "area", "clip": true, "opacity": 0.7},
    "encoding": {"y": {"field": "ph", "type": "quantitative", "scale": {"domain": [-0.25, 0.25], "nice": false, "zero": false}, "axis": {"title": "Amplitude", "values": [-0.2, 0, 0.2], "format": ".1f"}}, "y2": {"field": "pl"},
     "color": {"datum": "Prediction", "type": "nominal"}, "fill": {"value": "#008000"}}},
   {"data": {"name": "r3"}, "mark": {"type": "line", "clip": true, "strokeWidth": 2, "interpolate": "monotone"},
    "encoding": {"y": {"field": "rp", "type": "quantitative", "scale": {"domain": [-0.25, 0.25], "nice": false, "zero": false}, "axis": {"title": "Amplitude", "values": [-0.2, 0, 0.2], "format": ".1f"}},
     "color": {"datum": "RMS Prediction", "type": "nominal"}}},
   {"data": {"name": "r3"}, "mark": {"type": "line", "clip": true, "strokeWidth": 2, "interpolate": "monotone"},
    "encoding": {"y": {"field": "rt", "type": "quantitative", "scale": {"domain": [-0.25, 0.25], "nice": false, "zero": false}, "axis": {"title": "Amplitude", "values": [-0.2, 0, 0.2], "format": ".1f"}},
     "color": {"datum": "RMS Target", "type": "nominal"}}}
  ]
 },
 {
  "width": 474, "height": 125,
  "encoding": {"x": {"field": "t", "type": "quantitative", "scale": {"domain": [-201, 4192], "nice": false, "zero": false}, "axis": {"title": "Time (ms)", "format": "d", "values": [0,500,1000,1500,2000,2500,3000,3500,4000]}}},
  "layer": [
   {"data": {"name": "p4"}, "mark": {"type": "area", "clip": true, "stroke": "#ff0000", "strokeWidth": 1},
    "encoding": {"y": {"field": "th", "type": "quantitative", "scale": {"domain": [-0.25, 0.25], "nice": false, "zero": false}, "axis": {"title": "Amplitude", "values": [-0.2, 0, 0.2], "format": ".1f"}}, "y2": {"field": "tl"},
     "color": {"datum": "Target", "type": "nominal", "scale": {"domain": ["Target", "Prediction", "RMS Prediction", "RMS Target"], "range": ["#ff0000", "#4ca64c", "#000000", "#808080"]},
      "legend": {"title": null, "direction": "horizontal", "columns": 4, "encode": {"symbols": {"update": {"strokeWidth": {"value": 2}, "fill": {"value": "transparent"}, "opacity": {"value": 1}}}}}}}},
   {"data": {"name": "p4"}, "mark": {"type": "area", "clip": true, "opacity": 0.7},
    "encoding": {"y": {"field": "ph", "type": "quantitative", "scale": {"domain": [-0.25, 0.25], "nice": false, "zero": false}, "axis": {"title": "Amplitude", "values": [-0.2, 0, 0.2], "format": ".1f"}}, "y2": {"field": "pl"},
     "color": {"datum": "Prediction", "type": "nominal"}, "fill": {"value": "#008000"}}},
   {"data": {"name": "r4"}, "mark": {"type": "line", "clip": true, "strokeWidth": 2, "interpolate": "monotone"},
    "encoding": {"y": {"field": "rp", "type": "quantitative", "scale": {"domain": [-0.25, 0.25], "nice": false, "zero": false}, "axis": {"title": "Amplitude", "values": [-0.2, 0, 0.2], "format": ".1f"}},
     "color": {"datum": "RMS Prediction", "type": "nominal"}}},
   {"data": {"name": "r4"}, "mark": {"type": "line", "clip": true, "strokeWidth": 2, "interpolate": "monotone"},
    "encoding": {"y": {"field": "rt", "type": "quantitative", "scale": {"domain": [-0.25, 0.25], "nice": false, "zero": false}, "axis": {"title": "Amplitude", "values": [-0.2, 0, 0.2], "format": ".1f"}},
     "color": {"datum": "RMS Target", "type": "nominal"}}}
  ]
 }
]
}
